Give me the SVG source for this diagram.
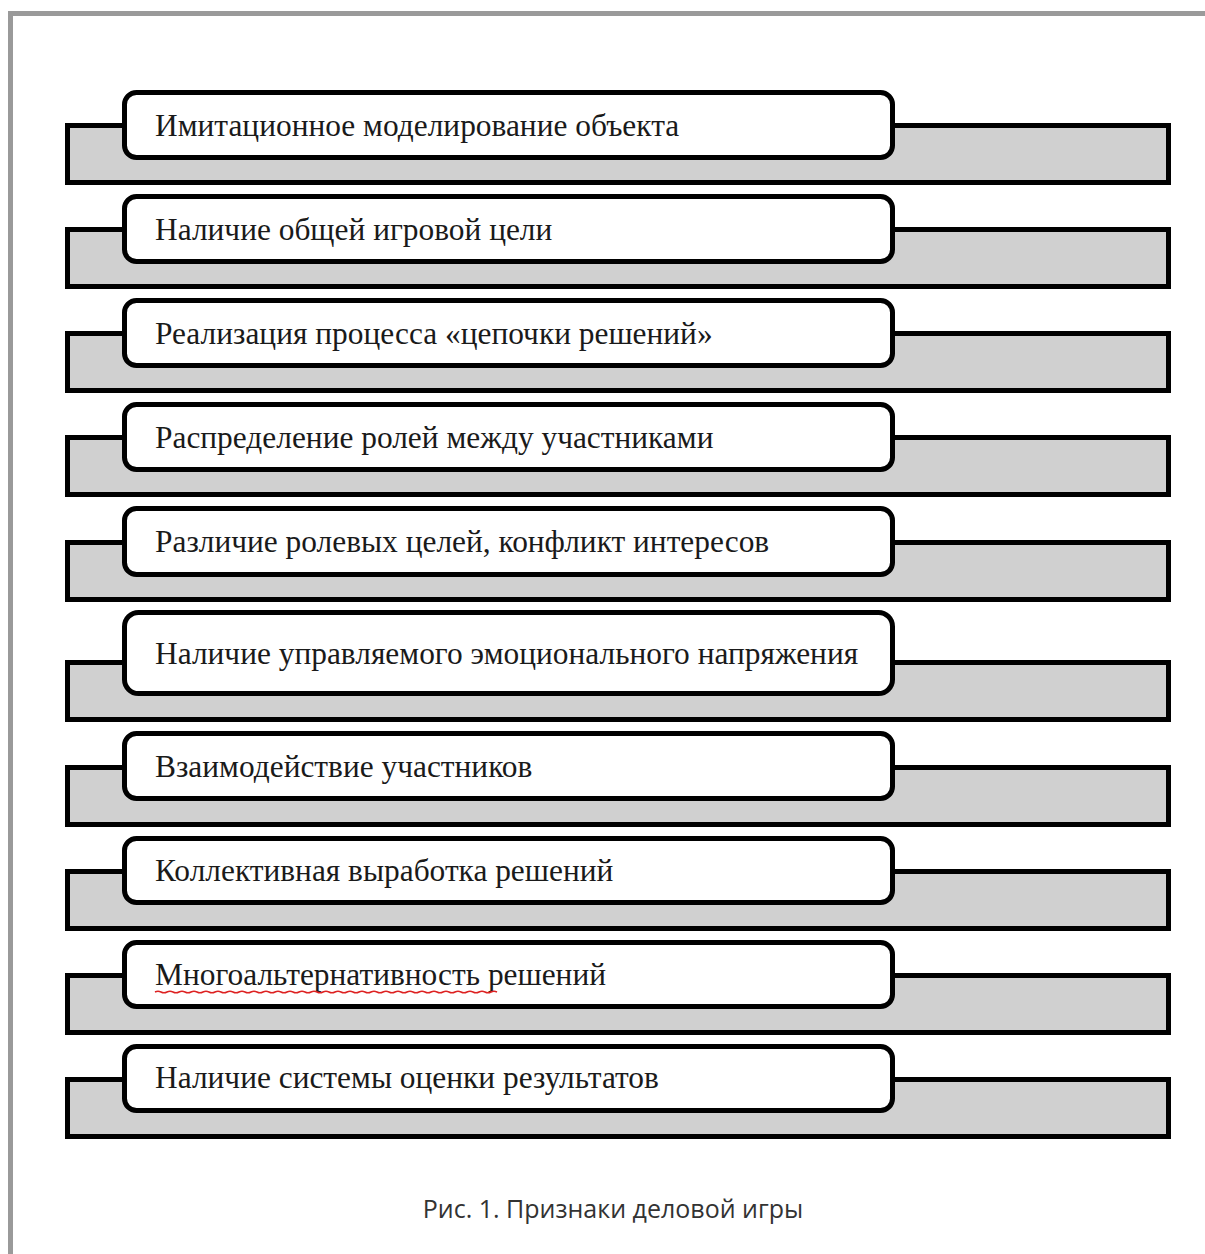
<svg xmlns="http://www.w3.org/2000/svg" width="1205" height="1254" viewBox="0 0 1205 1254">
<style>
.band{fill:#d0d0d0;stroke:#000;stroke-width:5}
.box{fill:#fff;stroke:#000;stroke-width:5}
.t{font-family:"Liberation Serif","Times New Roman",serif;font-size:31.4px;fill:#1a1a1a}
.cap{font-family:"Open Sans","Noto Sans",sans-serif;font-size:25px;fill:#333}
</style>
<rect x="0" y="0" width="1205" height="1254" fill="#fff"/>
<path d="M10.5 1254 V13.5 H1205" fill="none" stroke="#9a9a9a" stroke-width="5"/>
<g id="connectors"></g>
<g id="n1"><rect class="band" x="67.5" y="125.5" width="1101" height="57"/><rect class="box" x="124.5" y="92.5" width="768" height="65" rx="12"/><text class="t" x="155" y="136">Имитационное моделирование объекта</text></g>
<g id="n2"><rect class="band" x="67.5" y="229.5" width="1101" height="57"/><rect class="box" x="124.5" y="196.5" width="768" height="65" rx="12"/><text class="t" x="155" y="240">Наличие общей игровой цели</text></g>
<g id="n3"><rect class="band" x="67.5" y="333.5" width="1101" height="57"/><rect class="box" x="124.5" y="300.5" width="768" height="65" rx="12"/><text class="t" x="155" y="344">Реализация процесса «цепочки решений»</text></g>
<g id="n4"><rect class="band" x="67.5" y="437.5" width="1101" height="57"/><rect class="box" x="124.5" y="404.5" width="768" height="65" rx="12"/><text class="t" x="155" y="448">Распределение ролей между участниками</text></g>
<g id="n5"><rect class="band" x="67.5" y="542.5" width="1101" height="57"/><rect class="box" x="124.5" y="508.5" width="768" height="66" rx="12"/><text class="t" x="155" y="552">Различие ролевых целей, конфликт интересов</text></g>
<g id="n6"><rect class="band" x="67.5" y="662.5" width="1101" height="57"/><rect class="box" x="124.5" y="612.5" width="768" height="81" rx="14"/><text class="t" x="155" y="664">Наличие управляемого эмоционального напряжения</text></g>
<g id="n7"><rect class="band" x="67.5" y="767.5" width="1101" height="57"/><rect class="box" x="124.5" y="733.5" width="768" height="65" rx="12"/><text class="t" x="155" y="777">Взаимодействие участников</text></g>
<g id="n8"><rect class="band" x="67.5" y="871.5" width="1101" height="57"/><rect class="box" x="124.5" y="838.5" width="768" height="64" rx="12"/><text class="t" x="155" y="881">Коллективная выработка решений</text></g>
<g id="n9"><rect class="band" x="67.5" y="975.5" width="1101" height="57"/><rect class="box" x="124.5" y="942.5" width="768" height="64" rx="12"/><text class="t" x="155" y="985">Многоальтернативность решений</text><path d="M155 992 q3 -1.5 6 0 t6 0 t6 0 t6 0 t6 0 t6 0 t6 0 t6 0 t6 0 t6 0 t6 0 t6 0 t6 0 t6 0 t6 0 t6 0 t6 0 t6 0 t6 0 t6 0 t6 0 t6 0 t6 0 t6 0 t6 0 t6 0 t6 0 t6 0 t6 0 t6 0 t6 0 t6 0 t6 0 t6 0 t6 0 t6 0 t6 0 t6 0 t6 0 t6 0 t6 0 t6 0 t6 0 t6 0 t6 0 t6 0 t6 0 t6 0 t6 0 t6 0 t6 0 t6 0 t6 0 t6 0 t6 0 t6 0 t6 0" fill="none" stroke="#d22" stroke-width="1.5"/></g>
<g id="n10"><rect class="band" x="67.5" y="1079.5" width="1101" height="57"/><rect class="box" x="124.5" y="1046.5" width="768" height="64" rx="12"/><text class="t" x="155" y="1088">Наличие системы оценки результатов</text></g>
<text class="cap" x="613" y="1218" text-anchor="middle">Рис. 1. Признаки деловой игры</text>
</svg>
